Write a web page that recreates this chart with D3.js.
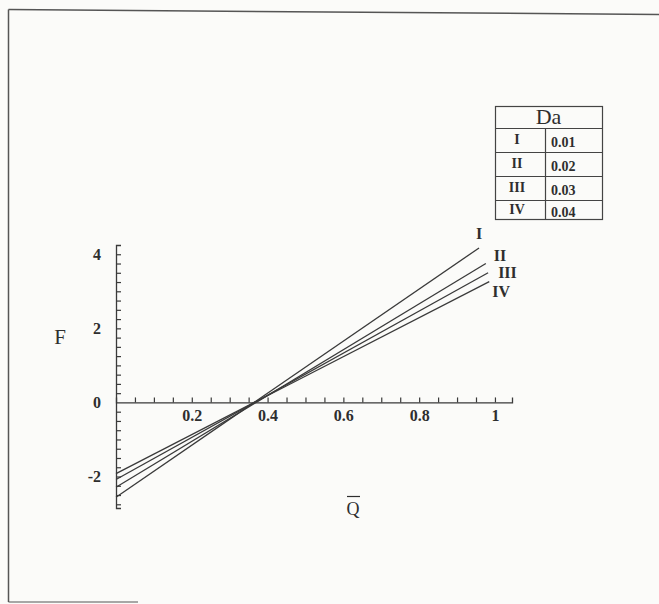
<!DOCTYPE html>
<html>
<head>
<meta charset="utf-8">
<script src="https://cdn.jsdelivr.net/npm/d3@7"></script>
<style>
  html, body { margin: 0; padding: 0; background: #fbfbf9; }
  svg { display: block; }
  text { font-family: "Liberation Serif", "Times New Roman", serif; fill: #2e2e2e; }
</style>
</head>
<body>
<script>
// Curves F(Q̄) for four Damköhler numbers; each is a straight segment.
const seriesNames = ["I", "II", "III", "IV"];
const daValues = ["0.01", "0.02", "0.03", "0.04"];
const qStart = [0, 0, 0, 0];
const qEnd = [0.958, 0.976, 0.982, 0.985];
const fStart = [-2.56, -2.29, -2.08, -1.92];
const fEnd = [4.17, 3.75, 3.50, 3.26];

const xTickLabels = [0.2, 0.4, 0.6, 0.8, 1];
const yTickLabels = [-2, 0, 2, 4];

const W = 659, H = 604;
const svg = d3.select("body").append("svg").attr("width", W).attr("height", H);

// Page frame
const frame = svg.append("g").attr("stroke", "#555").attr("stroke-width", 1.5).attr("fill", "none");
frame.append("line").attr("x1", 8.5).attr("y1", 9.5).attr("x2", W).attr("y2", 14.5);
frame.append("line").attr("x1", 8.5).attr("y1", 9.5).attr("x2", 8.5).attr("y2", 602);
frame.append("line").attr("x1", 8.5).attr("y1", 602).attr("x2", 138).attr("y2", 602).attr("stroke-width", 1.2);

const x = d3.scaleLinear().domain([0, 1.045]).range([116, 512]);
const y = d3.scaleLinear().domain([-2.85, 4.25]).range([508, 245]);

const x0 = x(0), y0 = y(0);

// Minor ticks
const xMinor = d3.range(1, 21).map(i => i * 0.05);
const yMinor = d3.range(-11, 17).map(i => i * 0.25).filter(v => Math.abs(v) > 1e-9);

const xAxisG = svg.append("g").attr("transform", `translate(0,${y0})`)
  .call(d3.axisBottom(x).tickValues(xMinor).tickSize(-5).tickFormat(""));
const yAxisG = svg.append("g").attr("transform", `translate(${x0},0)`)
  .call(d3.axisLeft(y).tickValues(yMinor).tickSize(-5).tickFormat(""));
[xAxisG, yAxisG].forEach(g => {
  g.select(".domain").attr("stroke", "#3a3a3a").attr("stroke-width", 1.3);
  g.selectAll(".tick line").attr("stroke", "#3a3a3a").attr("stroke-width", 1.2);
});

// Labelled ticks
const xLab = svg.append("g").attr("transform", `translate(0,${y0})`)
  .call(d3.axisBottom(x).tickValues(xTickLabels).tickSize(0).tickPadding(7)
    .tickFormat(d => d === 1 ? "1" : d3.format(".1f")(d)));
xLab.select(".domain").remove();
xLab.selectAll("text").attr("font-size", 16).attr("font-weight", "bold")
  .attr("font-family", "Liberation Serif, serif").attr("fill", "#2e2e2e");

const yLab = svg.append("g").attr("transform", `translate(${x0},0)`)
  .call(d3.axisLeft(y).tickValues(yTickLabels).tickSize(0).tickPadding(15).tickFormat(d => String(d)));
yLab.select(".domain").remove();
yLab.selectAll("text").attr("font-size", 16).attr("font-weight", "bold")
  .attr("font-family", "Liberation Serif, serif").attr("fill", "#2e2e2e");

// Axis titles
svg.append("text").attr("x", 60).attr("y", 344).attr("text-anchor", "middle")
  .attr("font-size", 21).text("F");
svg.append("text").attr("x", 353).attr("y", 515).attr("text-anchor", "middle")
  .attr("font-size", 18).text("Q");
svg.append("line").attr("x1", 347).attr("x2", 360).attr("y1", 496.5).attr("y2", 496.5)
  .attr("stroke", "#2e2e2e").attr("stroke-width", 1.2);

// Lines
const data = seriesNames.map((n, i) => ({
  name: n,
  pts: [[qStart[i], fStart[i]], [qEnd[i], fEnd[i]]]
}));
const line = d3.line().x(d => x(d[0])).y(d => y(d[1]));
svg.append("g").selectAll("path").data(data).join("path")
  .attr("d", d => line(d.pts))
  .attr("fill", "none").attr("stroke", "#3a3a3a").attr("stroke-width", 1.3);

// End labels
const labelOffset = [[0, -9], [8, -3], [10, 5], [3, 15]];
svg.append("g").selectAll("text").data(data).join("text")
  .attr("x", (d, i) => x(d.pts[1][0]) + labelOffset[i][0])
  .attr("y", (d, i) => y(d.pts[1][1]) + labelOffset[i][1])
  .attr("text-anchor", (d, i) => i === 0 ? "middle" : "start")
  .attr("font-size", 16).attr("font-weight", "bold")
  .text(d => d.name);

// Legend table
const tbl = { left: 495, right: 602, top: 106, head: 128, col: 545 };
const rowLines = [128, 152, 176, 200, 219];
const tg = svg.append("g");
tg.append("rect").attr("x", tbl.left + 0.5).attr("y", tbl.top + 0.5)
  .attr("width", tbl.right - tbl.left).attr("height", rowLines[4] - tbl.top)
  .attr("fill", "none").attr("stroke", "#444").attr("stroke-width", 1.2);
rowLines.slice(0, 4).forEach(v => tg.append("line")
  .attr("x1", tbl.left).attr("x2", tbl.right).attr("y1", v + 0.5).attr("y2", v + 0.5)
  .attr("stroke", "#444").attr("stroke-width", 1.2));
tg.append("line").attr("x1", tbl.col + 0.5).attr("x2", tbl.col + 0.5)
  .attr("y1", tbl.head).attr("y2", rowLines[4])
  .attr("stroke", "#444").attr("stroke-width", 1.2);
tg.append("text").attr("x", (tbl.left + tbl.right) / 2).attr("y", 124)
  .attr("text-anchor", "middle").attr("font-size", 22).text("Da");
seriesNames.forEach((n, i) => {
  const mid = (rowLines[i] + rowLines[i + 1]) / 2;
  tg.append("text").attr("x", 517).attr("y", mid + 4).attr("text-anchor", "middle")
    .attr("font-size", 14).attr("font-weight", "bold").text(n);
  tg.append("text").attr("x", 551).attr("y", mid + 7)
    .attr("font-size", 14).attr("font-weight", "bold").text(daValues[i]);
});
</script>
</body>
</html>
